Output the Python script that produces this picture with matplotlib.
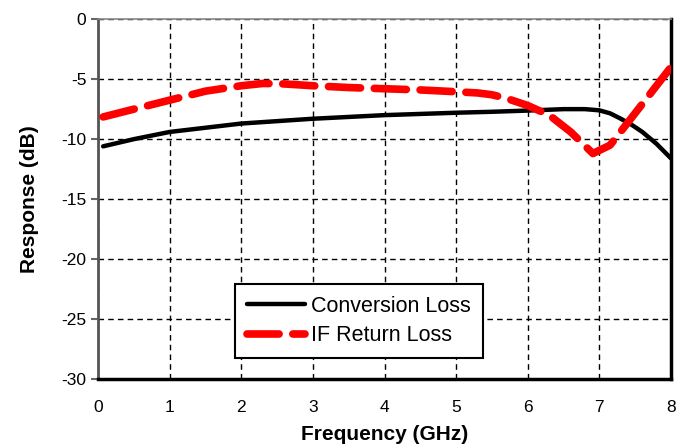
import numpy as np
import matplotlib.pyplot as plt

plt.rcParams['font.family'] = ['Liberation Sans', 'DejaVu Sans']
plt.rcParams['axes.unicode_minus'] = False

# data
freq_cl = [0.07, 0.5, 1.0, 1.5, 2.0, 2.5, 3.0, 3.5, 4.0, 4.5, 5.0, 5.5, 6.0, 6.5, 6.8, 7.0, 7.15, 7.3, 7.45, 7.6, 7.8, 8.0]
conv_loss = [-10.6, -10.0, -9.4, -9.05, -8.7, -8.5, -8.3, -8.15, -8.0, -7.9, -7.8, -7.72, -7.62, -7.5, -7.5, -7.6, -7.85, -8.3, -8.8, -9.4, -10.4, -11.6]
freq_rl = [0.07, 0.5, 1.0, 1.5, 2.0, 2.3, 2.6, 3.0, 3.5, 4.0, 4.5, 5.0, 5.3, 5.5, 5.7, 6.0, 6.3, 6.6, 6.91, 7.15, 7.4, 7.7, 8.0]
ret_loss = [-8.15, -7.5, -6.75, -6.0, -5.55, -5.36, -5.4, -5.55, -5.7, -5.8, -5.9, -6.05, -6.15, -6.3, -6.6, -7.2, -8.0, -9.4, -11.2, -10.5, -8.6, -6.3, -4.0]

fig = plt.figure(figsize=(6.91, 4.45), dpi=100)
ax = fig.add_axes([0.142, 0.148, 0.829, 0.809])

ax.plot(freq_cl, conv_loss, color='black', linewidth=3.2, solid_capstyle='round', label='Conversion Loss', zorder=3)
ax.plot(freq_rl, ret_loss, color='#ff0000', linewidth=5.5, dashes=(4.2, 1.8), dash_capstyle='round', label='IF Return Loss', zorder=4)

ax.set_xlim(0, 8)
ax.set_ylim(-30, 0)
ax.set_xticks(np.arange(0, 9, 1))
ax.set_yticks(np.arange(-30, 1, 5))
ax.grid(True, color='black', linestyle=(0, (4, 3)), linewidth=1.0)
ax.tick_params(axis='both', labelsize=12.5, direction='out', length=5, color='#666666', width=1.5)
ax.tick_params(axis='x', length=0, pad=15)

ax.spines['left'].set_color('#555555')
ax.spines['left'].set_linewidth(2.0)
ax.spines['bottom'].set_color('black')
ax.spines['bottom'].set_linewidth(2.5)
ax.spines['top'].set_color('#888888')
ax.spines['top'].set_linewidth(1.2)
ax.spines['right'].set_color('black')
ax.spines['right'].set_linewidth(2.5)

ax.set_xlabel('Frequency (GHz)', fontsize=15, fontweight='bold', labelpad=7)
ax.set_ylabel('Response (dB)', fontsize=15, fontweight='bold', labelpad=16)

leg = ax.legend(loc='lower left', bbox_to_anchor=(0.239, 0.058), fontsize=15.5, frameon=True,
                fancybox=False, handlelength=2.7, borderpad=0.55, labelspacing=0.4, handletextpad=0.3,
                borderaxespad=0)
leg.get_frame().set_edgecolor('black')
leg.get_frame().set_linewidth(1.5)
leg.get_frame().set_alpha(1)

fig.savefig('out.png', dpi=100)
